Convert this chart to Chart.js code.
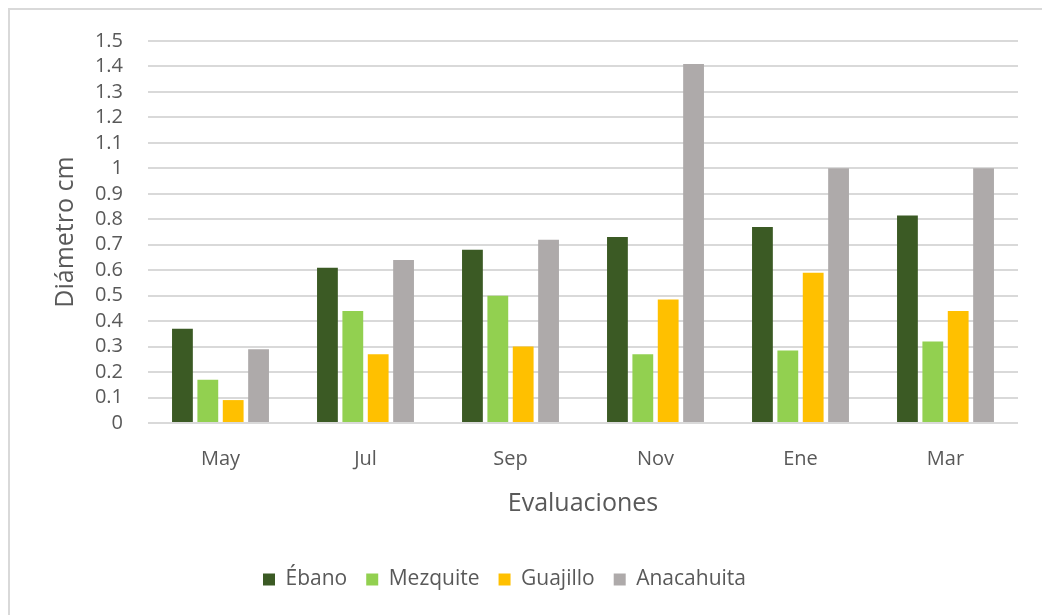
<!DOCTYPE html>
<html>
<head>
<meta charset="utf-8">
<script src="https://cdn.jsdelivr.net/npm/chart.js@4"></script>
<style>
  html, body { margin: 0; padding: 0; background: #fff; overflow: hidden; }
  #wrap { position: relative; width: 1042px; height: 615px; }
  #frame { position: absolute; left: 8px; top: 8px; width: 1100px; height: 700px;
           border: 2px solid #d9d9d9; pointer-events: none; }
  canvas { position: absolute; left: 0; top: 0; }
</style>
</head>
<body>
<div id="wrap">
  <canvas id="diamChart" width="1042" height="615"></canvas>
  <div id="frame"></div>
</div>
<script>
const months = ['May', 'Jul', 'Sep', 'Nov', 'Ene', 'Mar'];
const ebano = [0.37, 0.61, 0.68, 0.73, 0.77, 0.815];
const mezquite = [0.17, 0.44, 0.50, 0.27, 0.285, 0.32];
const guajillo = [0.09, 0.27, 0.30, 0.485, 0.59, 0.44];
const anacahuita = [0.29, 0.64, 0.72, 1.41, 1.0, 1.0];

const textColor = '#595959';
const font = 'Open Sans';

// the legend sits a little left of the canvas centre
const legendShift = {
    id: 'legendShift',
    afterLayout(chart) {
        chart.legend.left -= 30;
        chart.legend.right -= 30;
    }
};

const ctx = document.getElementById('diamChart').getContext('2d');

const chart = new Chart(ctx, {
    type: 'bar',
    data: {
        labels: months,
        datasets: [
            { label: 'Ébano', data: ebano, backgroundColor: '#3b5a24' },
            { label: 'Mezquite', data: mezquite, backgroundColor: '#92d050' },
            { label: 'Guajillo', data: guajillo, backgroundColor: '#ffc000' },
            { label: 'Anacahuita', data: anacahuita, backgroundColor: '#aeaaaa' }
        ]
    },
    plugins: [legendShift],
    options: {
        responsive: false,
        animation: false,
        layout: { padding: { left: 51, right: 24, top: 41, bottom: 15 } },
        datasets: { bar: { categoryPercentage: 0.7, barPercentage: 0.82 } },
        plugins: {
            tooltip: { enabled: false },
            legend: {
                position: 'bottom',
                labels: {
                    color: textColor,
                    font: { family: font, size: 21 },
                    boxWidth: 12,
                    boxHeight: 12,
                    padding: 19
                }
            }
        },
        scales: {
            x: {
                afterFit: scale => { scale.height = 127; },
                grid: { display: false, drawTicks: false },
                border: { display: false },
                ticks: { color: textColor, font: { family: font, size: 20 }, padding: 24 },
                title: {
                    display: true,
                    text: 'Evaluaciones',
                    color: textColor,
                    font: { family: font, size: 25 },
                    padding: { top: 10, bottom: 31 }
                }
            },
            y: {
                min: 0,
                max: 1.5,
                afterFit: scale => { scale.width = 97; },
                grid: { color: '#d9d9d9', lineWidth: 2, drawTicks: false },
                border: { display: false },
                ticks: {
                    stepSize: 0.1,
                    autoSkip: false,
                    padding: 25,
                    color: textColor,
                    font: { family: font, size: 20 },
                    callback: v => String(Number(v.toFixed(1)))
                },
                title: {
                    display: true,
                    text: 'Diámetro cm',
                    color: textColor,
                    font: { family: font, size: 25 },
                    padding: 0
                }
            }
        }
    }
});
</script>
</body>
</html>
